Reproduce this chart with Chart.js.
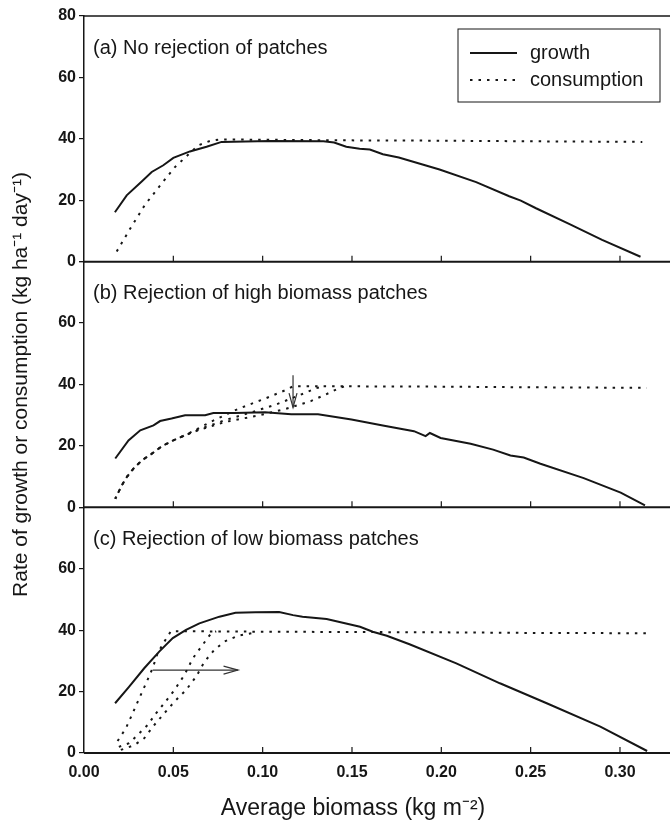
<!DOCTYPE html>
<html>
<head>
<meta charset="utf-8">
<script src="https://cdn.jsdelivr.net/npm/chart.js@4.4.1/dist/chart.umd.min.js"></script>
<style>
  html, body { margin: 0; padding: 0; background: #fff; }
  #wrap { width: 670px; height: 823px; position: relative; }
</style>
</head>
<body>
<div id="wrap"><canvas id="biomassChart"></canvas></div>
<script>
// (a) no rejection of patches
const growthAX = [0.0173, 0.0239, 0.0323, 0.0379, 0.0444, 0.0500, 0.0593, 0.0686, 0.0770, 0.1040, 0.1340, 0.1400, 0.1468, 0.1543, 0.1600, 0.1673, 0.1762, 0.1990, 0.2195, 0.2380, 0.2445, 0.2530, 0.2715, 0.2900, 0.3115];
const growthAY = [16.1, 21.6, 26.1, 29.2, 31.4, 33.8, 35.9, 37.4, 39.0, 39.3, 39.2, 38.8, 37.4, 36.8, 36.5, 35.0, 33.9, 30.0, 25.9, 21.3, 19.9, 17.4, 12.3, 7.1, 1.6];
const consAX = [0.0183, 0.0258, 0.0341, 0.0434, 0.0509, 0.0590, 0.0640, 0.0705, 0.0760, 0.1000, 0.1500, 0.2000, 0.2500, 0.3125];
const consAY = [3.3, 10.7, 18.5, 25.4, 30.8, 35.2, 37.9, 39.3, 39.8, 39.7, 39.5, 39.4, 39.2, 39.0];

// (b) rejection of high biomass patches
const growthBX = [0.0175, 0.0249, 0.0315, 0.0389, 0.0426, 0.0490, 0.0566, 0.0678, 0.0724, 0.0845, 0.1013, 0.1160, 0.1310, 0.1497, 0.1680, 0.1847, 0.1912, 0.1936, 0.1996, 0.2164, 0.2290, 0.2387, 0.2461, 0.2555, 0.2797, 0.3004, 0.3140];
const growthBY = [15.9, 21.8, 25.1, 26.7, 28.1, 28.9, 30.0, 30.0, 30.7, 30.7, 31.0, 30.3, 30.3, 28.6, 26.6, 24.8, 23.2, 24.2, 22.6, 20.7, 18.8, 16.9, 16.2, 14.2, 9.5, 4.8, 0.65];
// the three consumption curves share their low-biomass part
const consBLowX = [0.0175, 0.0212, 0.0240, 0.0277, 0.0324, 0.0380, 0.0436, 0.0500, 0.0566];
const consBLowY = [2.8, 7.2, 9.9, 12.6, 15.3, 17.5, 19.9, 21.8, 23.5];
const consB1X = [0.0630, 0.0715, 0.0864, 0.1013, 0.1125, 0.1170, 0.1500, 0.2000, 0.2500, 0.3150];
const consB1Y = [25.4, 28.0, 32.1, 35.4, 38.1, 39.4, 39.4, 39.3, 39.1, 38.9];
const consB2X = [0.0630, 0.0790, 0.0940, 0.1080, 0.1210, 0.1300, 0.1340];
const consB2Y = [25.1, 28.4, 31.0, 33.6, 36.6, 38.8, 39.4];
const consB3X = [0.0630, 0.0790, 0.0975, 0.1125, 0.1270, 0.1370, 0.1430, 0.1460];
const consB3Y = [24.9, 27.8, 29.9, 32.0, 34.6, 37.2, 38.9, 39.4];
const arrowBX = [0.117, 0.117];
const arrowBY = [43, 32.5];

// (c) rejection of low biomass patches
const growthCX = [0.0174, 0.0253, 0.0337, 0.0421, 0.0497, 0.0571, 0.0646, 0.0758, 0.0848, 0.0960, 0.1092, 0.1170, 0.1223, 0.1358, 0.1545, 0.1616, 0.1695, 0.1822, 0.2084, 0.2328, 0.2590, 0.2890, 0.3152];
const growthCY = [16.2, 21.6, 27.6, 33.0, 37.4, 40.1, 42.2, 44.4, 45.7, 45.8, 45.9, 44.9, 44.4, 43.6, 41.1, 39.5, 38.2, 35.4, 29.2, 22.7, 16.2, 8.6, 0.65];
const consC1X = [0.0188, 0.0234, 0.0272, 0.0309, 0.0347, 0.0384, 0.0412, 0.0450, 0.0487, 0.0700, 0.1000, 0.1500, 0.2000, 0.2500, 0.3150];
const consC1Y = [3.9, 8.0, 12.9, 17.8, 22.7, 27.6, 32.5, 36.3, 39.7, 39.6, 39.5, 39.4, 39.3, 39.1, 39.0];
const consC2X = [0.0195, 0.0253, 0.0309, 0.0356, 0.0403, 0.0449, 0.0506, 0.0562, 0.0609, 0.0656, 0.0712, 0.0740];
const consC2Y = [2.0, 3.2, 6.4, 9.1, 12.9, 16.2, 20.5, 25.4, 30.8, 34.6, 39.0, 39.6];
const consC3X = [0.0206, 0.0280, 0.0337, 0.0393, 0.0449, 0.0506, 0.0571, 0.0628, 0.0674, 0.0730, 0.0787, 0.0862, 0.0965];
const consC3Y = [1.0, 2.5, 4.8, 9.1, 12.9, 16.7, 20.5, 24.9, 29.7, 33.6, 36.3, 38.2, 39.3];
const arrowCX = [0.0384, 0.0862];
const arrowCY = [27, 27];

const panelTitles = [
  '(a) No rejection of patches',
  '(b) Rejection of high biomass patches',
  '(c) Rejection of low biomass patches'
];
const yTitle = 'Rate of growth or consumption (kg ha\u207B\u00B9 day\u207B\u00B9)';
const xTitle = 'Average biomass (kg m\u207B\u00B2)';

const ink = '#161616';
const sans = "'Liberation Sans', Arial, Helvetica, sans-serif";

function series(xs, ys) {
  return xs.map((x, i) => ({ x: x, y: ys[i] }));
}

function growth(xs, ys, axis) {
  return {
    label: 'growth', data: series(xs, ys), yAxisID: axis,
    borderColor: ink, borderWidth: 2, pointRadius: 0, tension: 0, fill: false
  };
}

function consumption(xs, ys, axis, offset) {
  return {
    label: 'consumption', data: series(xs, ys), yAxisID: axis,
    borderColor: ink, borderWidth: 2, borderDash: [2.5, 6], borderDashOffset: offset || 0,
    pointRadius: 0, tension: 0, fill: false
  };
}

function arrow(xs, ys, axis) {
  return {
    label: 'arrow', data: series(xs, ys), yAxisID: axis, arrowHead: true,
    borderColor: '#333', borderWidth: 1.2, pointRadius: 0, fill: false
  };
}

function panelAxis(weight, showTop) {
  return {
    type: 'linear', position: 'left', stack: 'panels', weight: weight,
    min: 0, max: 80,
    afterFit: (s) => { s.width = 84; },
    border: { display: true, color: ink, width: 1.5 },
    grid: { drawOnChartArea: false, drawTicks: true, tickLength: 5, color: ink, lineWidth: 1.2 },
    ticks: {
      stepSize: 20, padding: 3, color: ink,
      font: { family: sans, size: 16, weight: 'bold' },
      callback: (v) => (v === 80 && !showTop) ? '' : v
    }
  };
}

function line(ctx, x1, y1, x2, y2) {
  ctx.beginPath();
  ctx.moveTo(x1, y1);
  ctx.lineTo(x2, y2);
  ctx.stroke();
}

// panel frames, inner biomass ticks, titles and legend
const panelFrame = {
  id: 'panelFrame',
  beforeDatasetsDraw(chart) {
    const { ctx, chartArea, scales } = chart;
    const right = chart.width;
    const panels = [scales.ya, scales.yb, scales.yc];
    const xTicks = scales.x.ticks.map(t => t.value).filter(v => v > 0);
    ctx.save();
    ctx.strokeStyle = ink;
    ctx.lineWidth = 1.5;
    const yTop = scales.ya.getPixelForValue(80);
    line(ctx, chartArea.left, yTop, right, yTop);
    panels.forEach(s => {
      const y0 = s.getPixelForValue(0);
      ctx.lineWidth = 2;
      line(ctx, chartArea.left, y0, right, y0);
      ctx.lineWidth = 1.2;
      xTicks.forEach(v => {
        const px = scales.x.getPixelForValue(v);
        line(ctx, px, y0, px, y0 - 6);
      });
    });
    ctx.restore();
  },
  afterDatasetsDraw(chart) {
    const { ctx } = chart;
    chart.data.datasets.forEach((ds, i) => {
      if (!ds.arrowHead) return;
      const pts = chart.getDatasetMeta(i).data;
      const tip = pts[pts.length - 1];
      const tail = pts[pts.length - 2];
      const a = Math.atan2(tip.y - tail.y, tip.x - tail.x);
      const len = 15, spread = 0.27;
      ctx.save();
      ctx.strokeStyle = ds.borderColor;
      ctx.lineWidth = ds.borderWidth;
      ctx.beginPath();
      ctx.moveTo(tip.x - len * Math.cos(a - spread), tip.y - len * Math.sin(a - spread));
      ctx.lineTo(tip.x, tip.y);
      ctx.lineTo(tip.x - len * Math.cos(a + spread), tip.y - len * Math.sin(a + spread));
      ctx.stroke();
      ctx.restore();
    });
  },
  afterDraw(chart) {
    const { ctx, chartArea, scales } = chart;
    const panels = [scales.ya, scales.yb, scales.yc];
    ctx.save();
    ctx.fillStyle = ink;
    ctx.textBaseline = 'middle';
    ctx.textAlign = 'left';
    ctx.font = `20px ${sans}`;
    panels.forEach((s, i) => {
      ctx.fillText(panelTitles[i], chartArea.left + 9, s.top + 32);
    });

    // legend box in the first panel
    const box = { left: chartArea.right - 212, top: scales.ya.top + 13, w: 202, h: 73 };
    ctx.strokeStyle = ink;
    ctx.lineWidth = 1;
    ctx.strokeRect(box.left, box.top, box.w, box.h);
    [chart.data.datasets[0], chart.data.datasets[1]].forEach((ds, i) => {
      const y = box.top + 24 + i * 27;
      ctx.save();
      ctx.lineWidth = ds.borderWidth;
      ctx.setLineDash(ds.borderDash || []);
      line(ctx, box.left + 12, y, box.left + 59, y);
      ctx.restore();
      ctx.fillText(ds.label, box.left + 72, y);
    });

    ctx.font = `23px ${sans}`;
    ctx.textAlign = 'center';
    ctx.fillText(xTitle, chartArea.left + 269, scales.x.bottom - 14);
    ctx.restore();
  }
};

new Chart(document.getElementById('biomassChart'), {
  type: 'line',
  data: {
    datasets: [
      growth(growthAX, growthAY, 'ya'),
      consumption(consAX, consAY, 'ya'),
      growth(growthBX, growthBY, 'yb'),
      consumption(consBLowX.concat(consB1X), consBLowY.concat(consB1Y), 'yb', 0),
      consumption(consBLowX.concat(consB2X), consBLowY.concat(consB2Y), 'yb', 1),
      consumption(consBLowX.concat(consB3X), consBLowY.concat(consB3Y), 'yb', 2),
      arrow(arrowBX, arrowBY, 'yb'),
      growth(growthCX, growthCY, 'yc'),
      consumption(consC1X, consC1Y, 'yc'),
      consumption(consC2X, consC2Y, 'yc'),
      consumption(consC3X, consC3Y, 'yc'),
      arrow(arrowCX, arrowCY, 'yc')
    ]
  },
  options: {
    responsive: true,
    maintainAspectRatio: false,
    animation: false,
    layout: { padding: { top: 16, left: 0, right: 0, bottom: 0 } },
    plugins: {
      legend: { display: false },
      tooltip: { enabled: false }
    },
    scales: {
      x: {
        type: 'linear', min: 0, max: 0.328,
        afterFit: (s) => { s.height = 70; },
        border: { display: false },
        grid: { display: false, drawTicks: false },
        ticks: {
          stepSize: 0.05, includeBounds: false, padding: 10, color: ink,
          maxRotation: 0, autoSkip: false,
          font: { family: sans, size: 16, weight: 'bold' },
          callback: (v) => v.toFixed(2)
        }
      },
      ya: panelAxis(3, true),
      yb: Object.assign(panelAxis(2, false), {
        title: {
          display: true, text: yTitle, color: ink,
          font: { family: sans, size: 21 },
          padding: { top: 9, bottom: 0 }
        }
      }),
      yc: panelAxis(1, false)
    }
  },
  plugins: [panelFrame]
});
</script>
</body>
</html>
